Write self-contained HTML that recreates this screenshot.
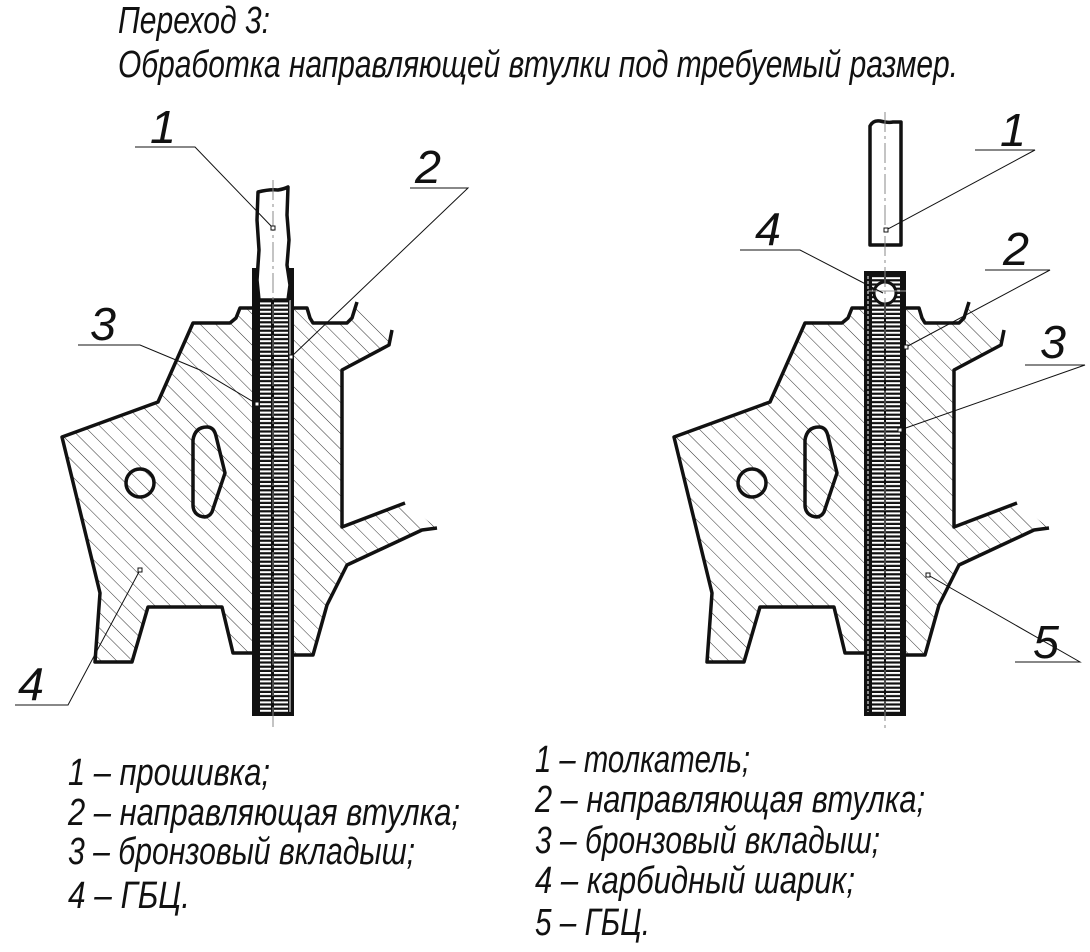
<!DOCTYPE html>
<html><head><meta charset="utf-8"><style>
html,body{margin:0;padding:0;background:#fff;}
svg{display:block;}
text{font-family:"Liberation Sans","DejaVu Sans",sans-serif;font-style:italic;fill:#111;}
</style></head><body>
<svg width="1090" height="952" viewBox="0 0 1090 952" xmlns="http://www.w3.org/2000/svg">
<defs>
<pattern id="hatch" patternUnits="userSpaceOnUse" width="11" height="11" patternTransform="rotate(-45)">
<line x1="0" y1="0" x2="0" y2="11" stroke="#333" stroke-width="1"/>
</pattern>
<pattern id="stripes" patternUnits="userSpaceOnUse" width="10" height="4.2">
<rect x="0" y="0" width="10" height="2" fill="#fff"/>
</pattern>
<g id="body">
<polygon fill="url(#hatch)" points="193,323 230,323 240,308 253,308 253,653 233,653 222,607 148,607 132,662 95,662 100,593 62,437 158,402"/>
<polygon fill="url(#hatch)" points="293,308 307,308 313,323 347,323 357,302 392,330 387,347 342,370 342,527 405,503 437,528 420,530 347,565 327,605 313,655 293,655"/>
<g fill="none" stroke="#111" stroke-width="3.5" stroke-linejoin="round">
<polyline points="253,308 240,308 236,318 230,323 193,323 158,402 62,437 100,593 95,662 132,662 148,607 222,607 233,653 253,653"/>
<polyline points="293,308 307,308 310,318 313,323 347,323 352,318 357,302"/>
<polyline points="392,330 389,345 342,370 342,527 405,503"/>
<polyline points="437,528 422,530 347,565 327,605 313,655 293,655"/>
<circle cx="140" cy="483" r="14"/>
<path d="M193,440 Q195,427 207,427 Q214,427 216,436 L225,473 L212,512 Q208,519 200,516 Q193,513 193,505 Z"/>
</g>
</g>
</defs>

<text x="118" y="33" font-size="38" textLength="152" lengthAdjust="spacingAndGlyphs">Переход 3:</text>
<text x="118" y="77" font-size="38" textLength="840" lengthAdjust="spacingAndGlyphs">Обработка направляющей втулки под требуемый размер.</text>

<!-- LEFT -->
<use href="#body"/>
<g>
<rect x="252" y="268" width="42" height="448" fill="#111"/>
<rect x="260" y="300" width="11" height="412" fill="url(#stripes)"/>
<rect x="274" y="300" width="14" height="412" fill="url(#stripes)"/>
<line x1="290" y1="300" x2="290" y2="712" stroke="#fff" stroke-width="1"/>
<path d="M258,192 Q270,189 278,190 Q284,189 288,187 L287,215 L289,240 L287,265 L290,285 L288,300 L259,300 L257,280 L259,250 L257,220 Z" fill="#fff" stroke="#111" stroke-width="3.5" stroke-linejoin="round"/>
<line x1="273" y1="180" x2="273" y2="728" stroke="#888" stroke-width="1" stroke-dasharray="20,4,3,4"/>
</g>

<!-- RIGHT -->
<use href="#body" transform="translate(612,0)"/>
<g>
<rect x="864" y="271" width="42" height="445" fill="#111"/>
<rect x="872" y="276" width="12" height="436" fill="url(#stripes)"/>
<rect x="886" y="276" width="14" height="436" fill="url(#stripes)"/>
<line x1="868" y1="276" x2="868" y2="712" stroke="#fff" stroke-width="1" stroke-dasharray="3,2"/>
<circle cx="885" cy="293" r="11" fill="#fff" stroke="#111" stroke-width="3"/>
<line x1="868" y1="291" x2="906" y2="291" stroke="#999" stroke-width="1"/>
<path d="M870,126 Q873,120 880,121 Q888,123 893,122 L901,122 L901,245 L870,245 Z" fill="#fff" stroke="#111" stroke-width="3.5" stroke-linejoin="round"/>
<line x1="885" y1="112" x2="885" y2="728" stroke="#888" stroke-width="1" stroke-dasharray="20,4,3,4"/>
</g>

<!-- leaders -->
<g fill="none" stroke="#111" stroke-width="1">
<polyline points="135,147 195,147 273,228"/>
<polyline points="410,188 468,188 291,357"/>
<polyline points="78,345 140,345 200,370 257,404"/>
<polyline points="15,705 68,705 140,570"/>
<polyline points="975,150 1035,150 886,230"/>
<polyline points="740,250 800,250 883,293"/>
<polyline points="985,270 1050,270 906,347"/>
<polyline points="1025,365 1085,365 900,430"/>
<polyline points="1015,662 1080,662 928,575"/>
</g>
<g fill="#fff" stroke="#111" stroke-width="1">
<rect x="271" y="226" width="4" height="4"/><rect x="289" y="355" width="4" height="4"/>
<rect x="255" y="402" width="4" height="4"/><rect x="138" y="568" width="4" height="4"/>
<rect x="884" y="228" width="4" height="4"/><rect x="904" y="345" width="4" height="4"/>
<rect x="898" y="428" width="4" height="4"/><rect x="926" y="573" width="4" height="4"/>
</g>

<g font-size="46">
<text x="150" y="143" textLength="26" lengthAdjust="spacingAndGlyphs">1</text>
<text x="415" y="183" textLength="26" lengthAdjust="spacingAndGlyphs">2</text>
<text x="90" y="340" textLength="26" lengthAdjust="spacingAndGlyphs">3</text>
<text x="18" y="700" textLength="26" lengthAdjust="spacingAndGlyphs">4</text>
<text x="1000" y="146" textLength="26" lengthAdjust="spacingAndGlyphs">1</text>
<text x="755" y="245" textLength="26" lengthAdjust="spacingAndGlyphs">4</text>
<text x="1003" y="265" textLength="26" lengthAdjust="spacingAndGlyphs">2</text>
<text x="1040" y="358" textLength="26" lengthAdjust="spacingAndGlyphs">3</text>
<text x="1033" y="658" textLength="26" lengthAdjust="spacingAndGlyphs">5</text>
</g>

<g font-size="38">
<text x="68" y="785" textLength="202" lengthAdjust="spacingAndGlyphs">1 – прошивка;</text>
<text x="68" y="825" textLength="392" lengthAdjust="spacingAndGlyphs">2 – направляющая втулка;</text>
<text x="68" y="864" textLength="347" lengthAdjust="spacingAndGlyphs">3 – бронзовый вкладыш;</text>
<text x="68" y="908" textLength="122" lengthAdjust="spacingAndGlyphs">4 – ГБЦ.</text>
<text x="535" y="772" textLength="215" lengthAdjust="spacingAndGlyphs">1 – толкатель;</text>
<text x="535" y="812" textLength="390" lengthAdjust="spacingAndGlyphs">2 – направляющая втулка;</text>
<text x="535" y="853" textLength="345" lengthAdjust="spacingAndGlyphs">3 – бронзовый вкладыш;</text>
<text x="535" y="893" textLength="320" lengthAdjust="spacingAndGlyphs">4 – карбидный шарик;</text>
<text x="535" y="935" textLength="115" lengthAdjust="spacingAndGlyphs">5 – ГБЦ.</text>
</g>
</svg>
</body></html>
